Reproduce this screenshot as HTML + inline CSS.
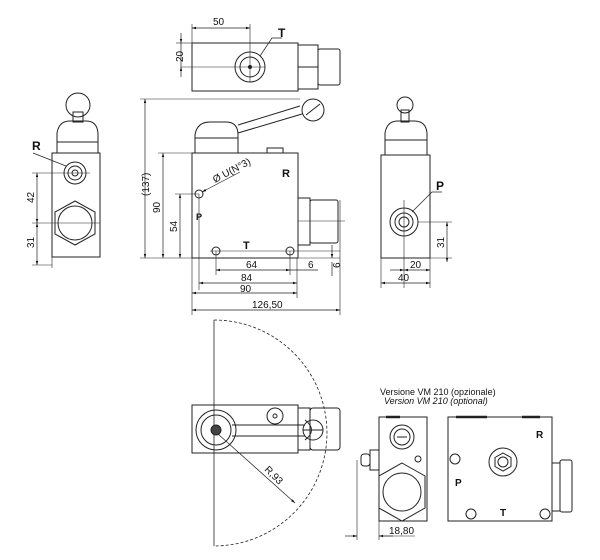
<!DOCTYPE html>
<html><head><meta charset="utf-8"><style>
html,body{margin:0;padding:0;background:#fff;}
svg{display:block;}
text{font-family:"Liberation Sans",sans-serif;fill:#111;}
</style></head><body>
<svg width="600" height="560" viewBox="0 0 600 560" xmlns="http://www.w3.org/2000/svg">
<defs>
<marker id="a" viewBox="0 0 10 10" refX="10" refY="5" markerWidth="6" markerHeight="6" orient="auto-start-reverse"><path d="M0,2 L10,5 L0,8 z" fill="#111"/></marker>
</defs>
<g stroke="#222" stroke-width="1" fill="none">
<!-- TOP VIEW -->
<rect x="192" y="43" width="106" height="48"/>
<rect x="298" y="45" width="20" height="44"/>
<line x1="298" y1="67" x2="318" y2="67"/>
<rect x="318" y="49" width="22" height="36" rx="2"/>
<circle cx="250" cy="67" r="15"/><circle cx="250" cy="67" r="10"/><circle cx="250" cy="67" r="1.5" fill="#222"/>
<line x1="181" y1="67" x2="265" y2="67" stroke-width="0.6"/>
<line x1="250" y1="24" x2="250" y2="82" stroke-width="0.6"/>
<line x1="192" y1="24" x2="192" y2="43" stroke-width="0.6"/>
<line x1="192" y1="28" x2="250" y2="28" marker-start="url(#a)" marker-end="url(#a)" stroke-width="0.7"/>
<line x1="176" y1="43" x2="192" y2="43" stroke-width="0.6"/>
<line x1="181" y1="33" x2="181" y2="43" marker-end="url(#a)" stroke-width="0.7"/>
<line x1="181" y1="77" x2="181" y2="67" marker-end="url(#a)" stroke-width="0.7"/>
<line x1="181" y1="43" x2="181" y2="67" stroke-width="0.7"/>
<polyline points="260,56 272,38 282,38" stroke-width="0.7"/>

<!-- FRONT VIEW -->
<rect x="192" y="153" width="106" height="105"/>
<path d="M195,153 L195,135 Q197,122 210,122 L226,122 Q238,122 238,135 L238,153"/>
<line x1="195" y1="138" x2="238" y2="138"/>
<path d="M238,133 L302,114 M238,125 L300,106" />
<circle cx="313" cy="110" r="11"/>
<line x1="306" y1="115" x2="320" y2="104"/>
<rect x="267" y="148" width="16" height="5"/>
<rect x="298" y="198" width="12" height="47"/>
<rect x="310" y="200" width="28" height="43" rx="2"/>
<line x1="298" y1="221" x2="345" y2="221" stroke-width="0.6"/>
<circle cx="199" cy="194" r="4"/>
<circle cx="216" cy="251" r="4"/><circle cx="290" cy="251" r="4"/>
<line x1="210" y1="251" x2="340" y2="251" stroke-width="0.6"/>
<line x1="202" y1="192" x2="240" y2="172" stroke-width="0.7" marker-start="url(#a)"/>
<!-- dims -->
<line x1="140" y1="99" x2="300" y2="99" stroke-width="0.6"/>
<line x1="140" y1="258" x2="340" y2="258" stroke-width="0.6"/>
<line x1="145" y1="99" x2="145" y2="258" marker-start="url(#a)" marker-end="url(#a)" stroke-width="0.7"/>
<line x1="158" y1="153" x2="192" y2="153" stroke-width="0.6"/>
<line x1="163" y1="153" x2="163" y2="258" marker-start="url(#a)" marker-end="url(#a)" stroke-width="0.7"/>
<line x1="175" y1="194" x2="199" y2="194" stroke-width="0.6"/>
<line x1="180" y1="194" x2="180" y2="258" marker-start="url(#a)" marker-end="url(#a)" stroke-width="0.7"/>
<line x1="199" y1="194" x2="199" y2="290" stroke-width="0.6"/>
<line x1="216" y1="251" x2="216" y2="275" stroke-width="0.6"/>
<line x1="290" y1="251" x2="290" y2="275" stroke-width="0.6"/>
<line x1="216" y1="270" x2="290" y2="270" marker-start="url(#a)" marker-end="url(#a)" stroke-width="0.7"/>
<line x1="290" y1="270" x2="318" y2="270" stroke-width="0.7"/>
<line x1="199" y1="283" x2="297" y2="283" marker-start="url(#a)" marker-end="url(#a)" stroke-width="0.7"/>
<line x1="297" y1="258" x2="297" y2="298" stroke-width="0.6"/>
<line x1="192" y1="258" x2="192" y2="315" stroke-width="0.6"/>
<line x1="192" y1="293" x2="297" y2="293" marker-start="url(#a)" marker-end="url(#a)" stroke-width="0.7"/>
<line x1="340" y1="200" x2="340" y2="315" stroke-width="0.6"/>
<line x1="192" y1="310" x2="340" y2="310" marker-start="url(#a)" marker-end="url(#a)" stroke-width="0.7"/>
<line x1="332" y1="245" x2="332" y2="258" marker-end="url(#a)" stroke-width="0.7"/>
<line x1="332" y1="276" x2="332" y2="262" stroke-width="0.7"/>

<!-- LEFT SIDE VIEW -->
<rect x="52" y="153" width="48" height="104"/>
<path d="M57,153 L57,133 Q59,121 70,121 L86,121 Q97,121 98,133 L98,153"/>
<line x1="57" y1="142" x2="98" y2="142"/>
<rect x="73" y="112" width="10" height="10"/>
<circle cx="78" cy="105" r="12"/>
<circle cx="75" cy="173" r="11"/><circle cx="75" cy="173" r="7"/><circle cx="75" cy="173" r="3"/>
<polygon points="75,201 95,212 95,234 75,245 55,234 55,212"/>
<circle cx="75" cy="223" r="17"/>
<line x1="32" y1="173" x2="90" y2="173" stroke-width="0.6"/>
<line x1="32" y1="223" x2="100" y2="223" stroke-width="0.6"/>
<line x1="32" y1="265" x2="52" y2="265" stroke-width="0.6"/>
<line x1="37" y1="173" x2="37" y2="223" marker-start="url(#a)" marker-end="url(#a)" stroke-width="0.7"/>
<line x1="37" y1="223" x2="37" y2="265" marker-start="url(#a)" marker-end="url(#a)" stroke-width="0.7"/>
<line x1="52" y1="257" x2="52" y2="268" stroke-width="0.6"/>
<line x1="33" y1="153" x2="66" y2="166" stroke-width="0.7"/>

<!-- RIGHT SIDE VIEW -->
<rect x="381" y="155" width="49" height="103"/>
<path d="M385,155 L385,133 Q387,121 398,121 L414,121 Q426,121 427,133 L427,155"/>
<line x1="385" y1="140" x2="427" y2="140"/>
<circle cx="405" cy="105" r="8"/>
<rect x="401" y="110" width="8" height="12"/>
<circle cx="404" cy="222" r="14"/><circle cx="404" cy="222" r="9"/><circle cx="404" cy="222" r="5"/>
<line x1="404" y1="200" x2="404" y2="288" stroke-width="0.6"/>
<line x1="418" y1="222" x2="452" y2="222" stroke-width="0.6"/>
<line x1="430" y1="258" x2="452" y2="258" stroke-width="0.6"/>
<line x1="447" y1="222" x2="447" y2="262" marker-start="url(#a)" marker-end="url(#a)" stroke-width="0.7"/>
<line x1="390" y1="270" x2="404" y2="270" marker-end="url(#a)" stroke-width="0.7"/>
<line x1="404" y1="270" x2="430" y2="270" marker-start="url(#a)" marker-end="url(#a)" stroke-width="0.7"/>
<line x1="430" y1="258" x2="430" y2="288" stroke-width="0.6"/>
<line x1="381" y1="258" x2="381" y2="288" stroke-width="0.6"/>
<line x1="381" y1="283" x2="430" y2="283" marker-start="url(#a)" marker-end="url(#a)" stroke-width="0.7"/>
<polyline points="412,212 432,192 442,192" stroke-width="0.7"/>

<!-- BOTTOM LEFT -->
<path d="M214,320 A113,113 0 0 1 214,546" stroke-dasharray="3,2" stroke-width="0.8"/>
<line x1="214" y1="320" x2="214" y2="546" stroke-width="0.8"/>
<rect x="192" y="405" width="106" height="48"/>
<rect x="298" y="408" width="12" height="42"/>
<rect x="310" y="408" width="30" height="42" rx="3"/>
<circle cx="216" cy="430" r="20"/><circle cx="216" cy="430" r="15"/><circle cx="216" cy="430" r="5" fill="#444"/>
<line x1="232" y1="425" x2="305" y2="425"/><line x1="232" y1="436" x2="305" y2="436"/>
<path d="M305,420 Q318,430 305,440" />
<circle cx="313" cy="430" r="10"/>
<line x1="303" y1="430" x2="323" y2="430"/>
<circle cx="275" cy="416" r="8"/><circle cx="275" cy="416" r="2"/>
<line x1="218" y1="434" x2="295" y2="503" marker-end="url(#a)" stroke-width="0.7"/>

<!-- BOTTOM MIDDLE -->
<rect x="379" y="417" width="48" height="104"/>
<line x1="386" y1="417" x2="400" y2="417" stroke-width="2.5"/>
<circle cx="402" cy="437" r="12"/><circle cx="402" cy="437" r="8"/>
<line x1="397" y1="437" x2="407" y2="437"/>
<circle cx="418" cy="459" r="3"/>
<polygon points="402,463 425,476 425,508 402,521 379,508 379,476"/>
<circle cx="402" cy="492" r="19"/>
<rect x="370" y="450" width="9" height="20"/>
<rect x="361" y="454" width="9" height="12" rx="3"/>
<line x1="357" y1="460" x2="357" y2="540" stroke-width="0.6"/>
<line x1="379" y1="521" x2="379" y2="540" stroke-width="0.6"/>
<line x1="345" y1="536" x2="357" y2="536" marker-end="url(#a)" stroke-width="0.7"/>
<line x1="393" y1="536" x2="379" y2="536" marker-end="url(#a)" stroke-width="0.7"/>
<line x1="379" y1="536" x2="415" y2="536" stroke-width="0.6"/>

<!-- BOTTOM RIGHT -->
<rect x="448" y="417" width="104" height="104"/>
<line x1="456" y1="417" x2="487" y2="417" stroke-width="2.5"/>
<line x1="522" y1="417" x2="540" y2="417" stroke-width="2.5"/>
<circle cx="503" cy="462" r="14"/>
<polygon points="503,453 511,457.5 511,466.5 503,471 495,466.5 495,457.5"/>
<circle cx="503" cy="462" r="5"/>
<rect x="552" y="463" width="8" height="48"/>
<rect x="560" y="460" width="12" height="52" rx="2"/>
<circle cx="455" cy="459" r="5"/><circle cx="471" cy="514" r="5"/><circle cx="545" cy="514" r="5"/>
</g>
<g font-size="10">
<text x="213" y="25">50</text>
<text x="183" y="62" transform="rotate(-90 183 62)" font-size="10">20</text>
<text x="278" y="37" font-weight="bold" font-size="12">T</text>
<text x="149" y="196" transform="rotate(-90 149 196)">(137)</text>
<text x="160" y="213" transform="rotate(-90 160 213)">90</text>
<text x="177" y="232" transform="rotate(-90 177 232)">54</text>
<text x="215" y="183" transform="rotate(-28 215 183)">Ø U(N°3)</text>
<text x="282" y="177" font-weight="bold" font-size="11">R</text>
<text x="196" y="220" font-weight="bold" font-size="9">P</text>
<text x="243" y="249" font-weight="bold" font-size="11">T</text>
<text x="246" y="268">64</text>
<text x="308" y="268">6</text>
<text x="340" y="268" transform="rotate(-90 340 268)">6</text>
<text x="241" y="281">84</text>
<text x="240" y="292">90</text>
<text x="252" y="308">126,50</text>
<text x="32" y="150" font-weight="bold" font-size="12">R</text>
<text x="34" y="203" transform="rotate(-90 34 203)">42</text>
<text x="34" y="248" transform="rotate(-90 34 248)">31</text>
<text x="436" y="190" font-weight="bold" font-size="12">P</text>
<text x="444" y="248" transform="rotate(-90 444 248)">31</text>
<text x="410" y="268">20</text>
<text x="398" y="281">40</text>
<text x="264" y="470" transform="rotate(45 264 470)">R,93</text>
<text x="380" y="395" font-size="9">Versione VM 210 (opzionale)</text>
<text x="384" y="404" font-size="9" font-style="italic">Version VM 210 (optional)</text>
<text x="389" y="534">18,80</text>
<text x="536" y="438" font-weight="bold" font-size="10">R</text>
<text x="455" y="486" font-weight="bold" font-size="10">P</text>
<text x="500" y="516" font-weight="bold" font-size="10">T</text>
</g>
</svg>
</body></html>
